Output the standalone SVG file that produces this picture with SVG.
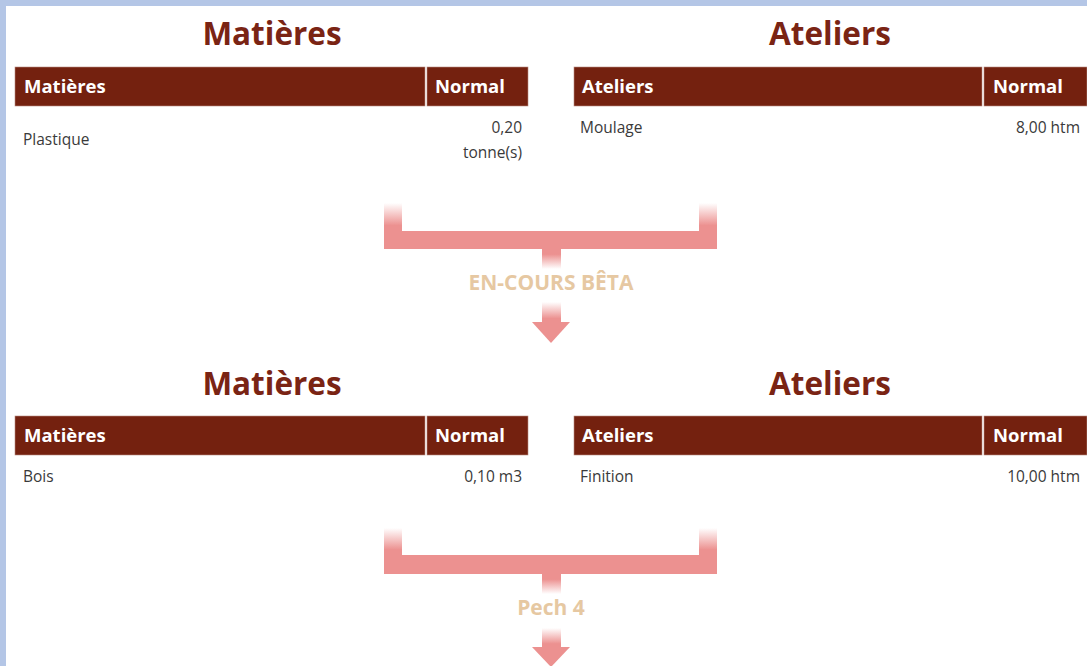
<svg xmlns="http://www.w3.org/2000/svg" width="1087" height="666" viewBox="0 0 1087 666">
<defs>
<linearGradient id="fadeIn" x1="0" y1="0" x2="0" y2="1"><stop offset="0" stop-color="#ec9190" stop-opacity="0"/><stop offset="0.75" stop-color="#ec9190" stop-opacity="1"/></linearGradient>
<linearGradient id="fadeOut" x1="0" y1="0" x2="0" y2="1"><stop offset="0.3" stop-color="#ec9190" stop-opacity="1"/><stop offset="1" stop-color="#ec9190" stop-opacity="0"/></linearGradient>
<style>
.title{font-family:"Open Sans","Liberation Sans",sans-serif;font-weight:bold;font-size:31.5px;fill:#7a2414;text-anchor:middle}
.hdr{fill:#74210f;stroke:#b88a80;stroke-width:0.6}
.htxt{font-family:"Open Sans","Liberation Sans",sans-serif;font-weight:bold;font-size:18.5px;fill:#ffffff}
.cell{font-family:"Open Sans","Liberation Sans",sans-serif;font-size:15.5px;fill:#3a3a3a}
.r{text-anchor:end}
.bar{fill:#ec9190}
.lbl{font-family:"Open Sans","Liberation Sans",sans-serif;font-weight:bold;font-size:21px;fill:#e6c8a2;text-anchor:middle}
</style>
</defs>
<rect x="0" y="0" width="1087" height="666" fill="#ffffff"/>
<rect x="0" y="0" width="1087" height="6" fill="#b4c6e6"/>
<rect x="0" y="0" width="6" height="666" fill="#b4c6e6"/>

<g id="matieres1">
<text class="title" x="272" y="45">Matières</text>
<rect class="hdr" x="15" y="67" width="410" height="39"/>
<rect class="hdr" x="427" y="67" width="101" height="39"/>
<text class="htxt" x="24" y="93">Matières</text>
<text class="htxt" x="435" y="93">Normal</text>
<text class="cell" x="23" y="145">Plastique</text>
<text class="cell r" x="522" y="133">0,20</text>
<text class="cell r" x="522" y="158">tonne(s)</text>
</g>

<g id="ateliers1">
<text class="title" x="830" y="45">Ateliers</text>
<rect class="hdr" x="574" y="67" width="408" height="39"/>
<rect class="hdr" x="984" y="67" width="103" height="39"/>
<text class="htxt" x="582" y="93">Ateliers</text>
<text class="htxt" x="993" y="93">Normal</text>
<text class="cell" x="580" y="133">Moulage</text>
<text class="cell r" x="1080" y="133">8,00 htm</text>
</g>

<g id="matieres2">
<text class="title" x="272" y="395">Matières</text>
<rect class="hdr" x="15" y="416" width="410" height="39"/>
<rect class="hdr" x="427" y="416" width="101" height="39"/>
<text class="htxt" x="24" y="442">Matières</text>
<text class="htxt" x="435" y="442">Normal</text>
<text class="cell" x="23" y="482">Bois</text>
<text class="cell r" x="522" y="482">0,10 m3</text>
</g>

<g id="ateliers2">
<text class="title" x="830" y="395">Ateliers</text>
<rect class="hdr" x="574" y="416" width="408" height="39"/>
<rect class="hdr" x="984" y="416" width="103" height="39"/>
<text class="htxt" x="582" y="442">Ateliers</text>
<text class="htxt" x="993" y="442">Normal</text>
<text class="cell" x="580" y="482">Finition</text>
<text class="cell r" x="1080" y="482">10,00 htm</text>
</g>

<g id="connectors">
<g id="merge1">
<rect x="384" y="203" width="18" height="30" fill="url(#fadeIn)"/>
<rect x="699" y="203" width="18" height="30" fill="url(#fadeIn)"/>
<rect class="bar" x="384" y="231" width="333" height="18"/>
<rect x="542" y="248" width="19" height="21" fill="url(#fadeOut)"/>
<text class="lbl" x="551" y="290">EN-COURS BÊTA</text>
<rect x="542" y="302" width="19" height="22" fill="url(#fadeIn)"/>
<polygon class="bar" points="532,322 570,322 551,343"/>
</g>
<g id="merge2">
<rect x="384" y="528" width="18" height="29" fill="url(#fadeIn)"/>
<rect x="699" y="528" width="18" height="29" fill="url(#fadeIn)"/>
<rect class="bar" x="384" y="555" width="333" height="19"/>
<rect x="542" y="573" width="19" height="21" fill="url(#fadeOut)"/>
<text class="lbl" x="551" y="615">Pech 4</text>
<rect x="542" y="628" width="19" height="21" fill="url(#fadeIn)"/>
<polygon class="bar" points="532,647 570,647 551,667"/>
</g>
</g>
</svg>
